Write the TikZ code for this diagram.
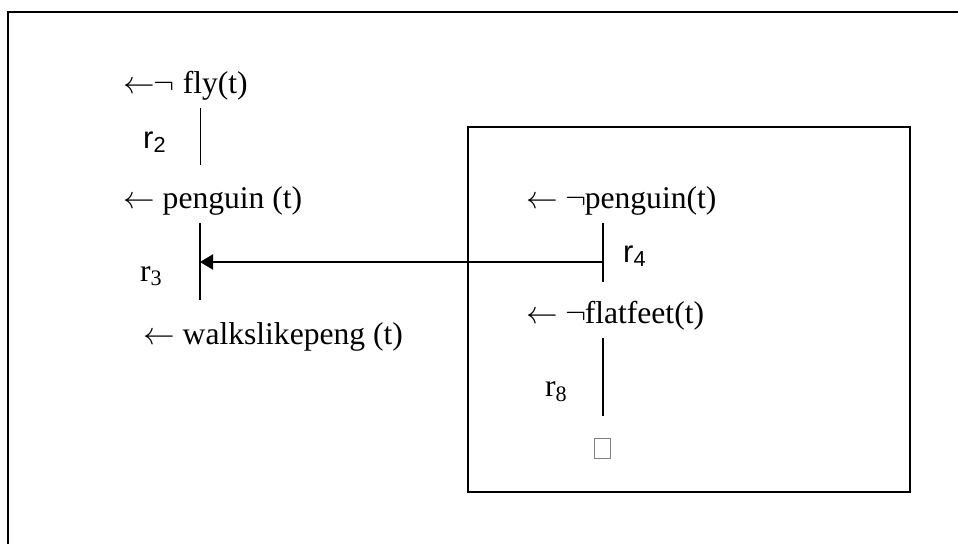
\RequirePackage{fix-cm}
\documentclass[tikz,border=0pt]{standalone}
\usepackage{fontspec}
\setmainfont{Liberation Serif}
\setsansfont{Liberation Sans}
\usetikzlibrary{arrows.meta}
\newcommand{\larr}{\ensuremath{\leftarrow}}
\newcommand{\nneg}{\ensuremath{\neg}}
\begin{document}
\begin{tikzpicture}[x=1pt,y=-1pt,
  txt/.style={anchor=base west,inner sep=0pt,font=\fontsize{31.6}{38}\selectfont},
  lbls/.style={anchor=base west,inner sep=0pt,font=\sffamily\fontsize{31}{36}\selectfont},
  lblr/.style={anchor=base west,inner sep=0pt,font=\fontsize{31.6}{38}\selectfont},
  frame/.style={line width=2pt},
  link/.style={line width=1.5pt},
  glyphbox/.style={draw=gray,line width=1pt,minimum width=16pt,minimum height=20pt,inner sep=0pt}]
\useasboundingbox (0,0) rectangle (958,544);
% outer frame (cropped)
\coordinate (ofa) at (8,544);
\coordinate (ofb) at (8,12);
\coordinate (ofc) at (958,12);
\draw[frame] (ofa) -- (ofb) -- (ofc);
% inner box
\coordinate (ib1) at (468,127);
\coordinate (ib2) at (910,492);
\draw[frame] (ib1) rectangle (ib2);
% left column
\node[txt] (fly) at (123,93.5) {\larr\kern-1pt\nneg\ fly(t)};
\node[lbls] (r2) at (143,148) {r\textsubscript{2}};
\coordinate (l1t) at (200,108);
\coordinate (l1b) at (200,165);
\draw[line width=1pt] (l1t) -- (l1b);
\node[txt] (peng) at (123,208) {\larr\ penguin (t)};
\coordinate (l2t) at (200,223);
\coordinate (l2b) at (200,300);
\draw[link] (l2t) -- (l2b);
\node[lblr] (r3) at (140,281) {r\textsubscript{3}};
\node[txt] (walk) at (143,344.5) {\larr\ walkslikepeng (t)};
% right column
\node[txt] (npeng) at (526,208.5) {\larr\ \nneg\kern-2pt penguin(t)};
\coordinate (l3t) at (603,223);
\coordinate (l3b) at (603,282);
\draw[link] (l3t) -- (l3b);
\node[lbls] (r4) at (623,262) {r\textsubscript{4}};
\node[txt] (nflat) at (526,323.5) {\larr\ \nneg\kern-2pt flatfeet(t)};
\coordinate (l4t) at (603,338);
\coordinate (l4b) at (603,416);
\draw[link] (l4t) -- (l4b);
\node[lblr] (r8) at (545,396.5) {r\textsubscript{8}};
\node[glyphbox] (box) at (602,448) {};
% connector
\coordinate (as) at (603,262);
\coordinate (ae) at (200,262);
\draw[line width=2pt,-{Triangle[length=13pt,width=15pt]}] (as) -- (ae);
\end{tikzpicture}
\end{document}
